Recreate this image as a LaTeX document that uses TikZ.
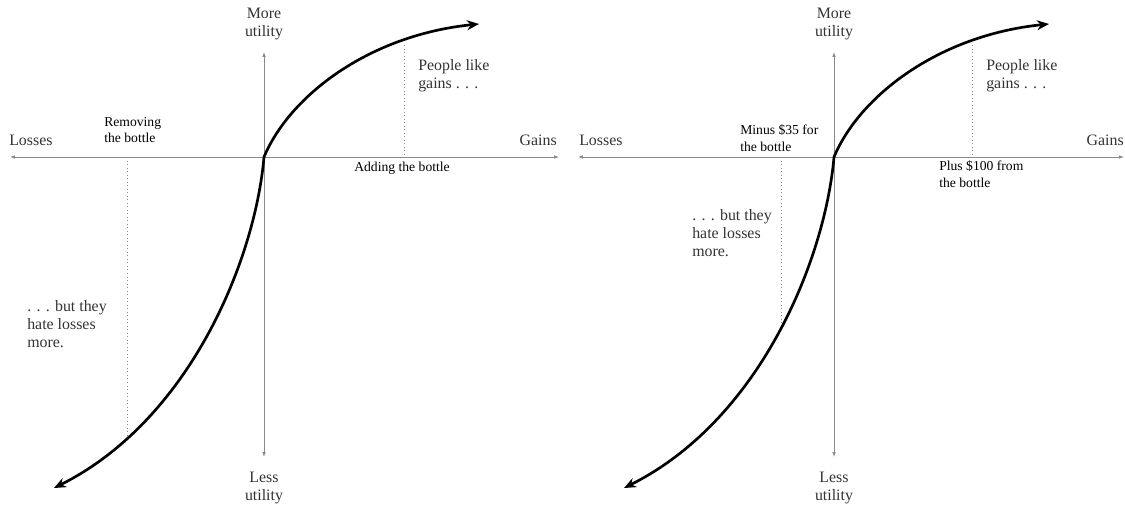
\documentclass[tikz,border=0pt]{standalone}
\usepackage{fontspec}
\setmainfont{Liberation Serif}
\usetikzlibrary{arrows.meta, positioning}
\definecolor{axisgray}{HTML}{8A8A8A}
\definecolor{textgray}{HTML}{333333}

\begin{document}
\begin{tikzpicture}[
      x=0.025cm, y=-0.025cm,
      axis/.style={draw=axisgray, line width=0.6pt, {Latex[length=3.5pt,width=2.6pt]}-{Latex[length=3.5pt,width=2.6pt]}},
      curve/.style={line width=1.9pt, {Stealth[length=8.5pt,width=7pt]}-{Stealth[length=8.5pt,width=7pt]}},
      guide/.style={draw=axisgray, line width=0.5pt, dotted},
      biglabel/.style={text=textgray, align=center, inner sep=0pt, font=\fontsize{11.3}{12.8}\selectfont},
      note/.style={text=textgray, align=left, inner sep=0pt, font=\fontsize{11.3}{12.8}\selectfont},
      small/.style={align=left, inner sep=0pt, font=\fontsize{9.7}{11.8}\selectfont}
    ]
    \useasboundingbox (0,0) rectangle (1125,506);

    % left panel: adding / removing the bottle
    \coordinate (o1) at (264,157);
    \coordinate (xl1) at (10,157);
    \coordinate (xr1) at (559,157);
    \coordinate (yt1) at (264,52);
    \coordinate (yb1) at (264,457);
    \coordinate (gtip1) at (479,24);
    \coordinate (ltip1) at (54,488);

    \draw[axis] (xl1) -- (xr1);
    \draw[axis] (yb1) -- (yt1);
    \draw[curve] (ltip1) .. controls (190,420) and (255,260) .. (o1)
                         .. controls (290,95) and (370,35) .. (gtip1);

    \coordinate (gtop1) at (404,45);
    \coordinate (gbot1) at (404,157);
    \coordinate (ltop1) at (127,157);
    \coordinate (lbot1) at (127,438);
    \draw[guide] (gtop1) -- (gbot1);
    \draw[guide] (ltop1) -- (lbot1);

    \node[biglabel] (more1) at (264,24) {More\\utility};
    \node[biglabel] (less1) at (264,488) {Less\\utility};
    \node[biglabel, anchor=west] (losses1) at (9,140) {Losses};
    \node[biglabel, anchor=east] (gains1) at (557,140) {Gains};
    \node[note, anchor=west] (like1) at (418,76) {People like\\gains . . .};
    \node[note, anchor=west] (hate1) at (27,324) {. . . but they\\hate losses\\more.};
    \node[small, anchor=west] (remove1) at (104,130) {Removing\\the bottle};
    \node[small, anchor=west] (add1) at (354,168) {Adding the bottle};

    % right panel: dollar values
    \coordinate (o2) at (834,157);
    \coordinate (xl2) at (578,157);
    \coordinate (xr2) at (1124,157);
    \coordinate (yt2) at (834,52);
    \coordinate (yb2) at (834,457);
    \coordinate (gtip2) at (1049,24);
    \coordinate (ltip2) at (624,488);

    \draw[axis] (xl2) -- (xr2);
    \draw[axis] (yb2) -- (yt2);
    \draw[curve] (ltip2) .. controls (760,420) and (825,260) .. (o2)
                         .. controls (860,95) and (940,35) .. (gtip2);

    \coordinate (gtop2) at (972,45);
    \coordinate (gbot2) at (972,157);
    \coordinate (ltop2) at (781,157);
    \coordinate (lbot2) at (781,325);
    \draw[guide] (gtop2) -- (gbot2);
    \draw[guide] (ltop2) -- (lbot2);

    \node[biglabel] (more2) at (834,24) {More\\utility};
    \node[biglabel] (less2) at (834,488) {Less\\utility};
    \node[biglabel, anchor=west] (losses2) at (579,140) {Losses};
    \node[biglabel, anchor=east] (gains2) at (1124,140) {Gains};
    \node[note, anchor=west] (like2) at (986,76) {People like\\gains . . .};
    \node[note, anchor=west] (hate2) at (692,233) {. . . but they\\hate losses\\more.};
    \node[small, anchor=west] (minus2) at (740,138) {Minus \$35 for\\the bottle};
    \node[small, anchor=west] (plus2) at (939,174) {Plus \$100 from\\the bottle};
  \end{tikzpicture}
\end{document}
